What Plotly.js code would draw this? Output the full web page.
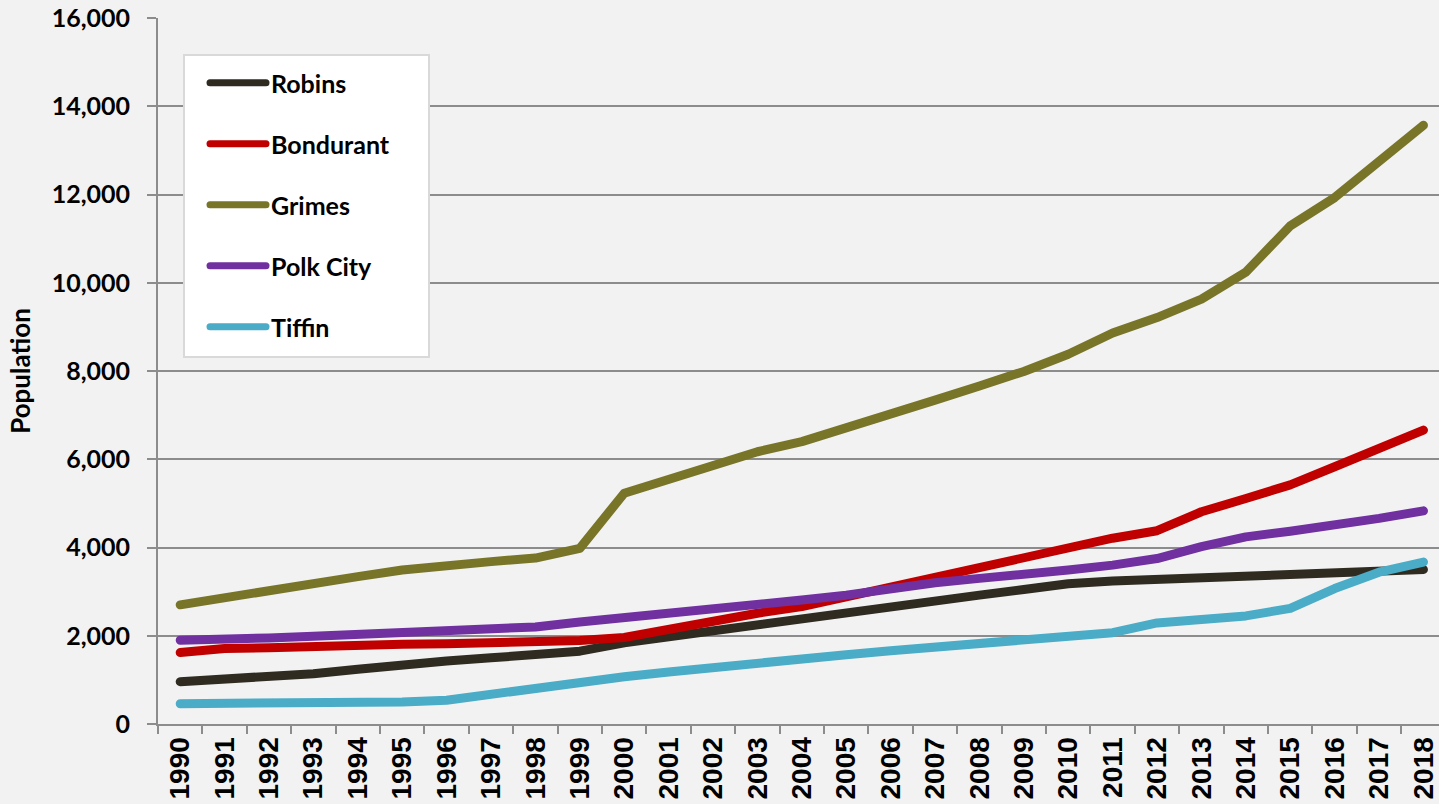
<!DOCTYPE html>
<html>
<head>
<meta charset="utf-8">
<script src="https://cdn.plot.ly/plotly-3.0.1.min.js"></script>
<style>
  html, body { margin: 0; padding: 0; background: #f2f2f2; }
  #chart { width: 1439px; height: 804px; }
</style>
</head>
<body>
<div id="chart"></div>
<script>
const years = ["1990","1991","1992","1993","1994","1995","1996","1997","1998","1999","2000","2001","2002","2003","2004","2005","2006","2007","2008","2009","2010","2011","2012","2013","2014","2015","2016","2017","2018"];

const robins    = [960,1010,1070,1140,1240,1350,1430,1500,1570,1650,1840,1980,2130,2270,2380,2510,2640,2780,2920,3050,3180,3240,3275,3300,3330,3370,3450,3480,3500];
const bondurant = [1620,1710,1730,1770,1800,1810,1820,1840,1860,1890,1960,2160,2360,2510,2660,2880,3110,3340,3560,3760,3970,4210,4380,4810,5110,5420,5830,6240,6660];
const grimes    = [2700,2870,3020,3170,3340,3490,3600,3680,3760,3980,5230,5560,5870,6170,6400,6730,7040,7340,7660,7990,8380,8860,9210,9630,10240,11290,11930,12740,13570];
const polkCity  = [1900,1910,1950,1990,2030,2060,2070,2120,2200,2310,2400,2520,2620,2720,2810,2920,3070,3200,3300,3380,3490,3600,3750,4020,4240,4370,4490,4660,4830];
const tiffin    = [460,460,460,470,470,500,540,680,820,950,1070,1180,1290,1390,1490,1570,1660,1750,1850,1920,1980,2070,2290,2390,2450,2620,3070,3440,3670];

const seriesNames = ["Robins","Bondurant","Grimes","Polk City","Tiffin"];
const seriesData = [robins, bondurant, grimes, polkCity, tiffin];
const seriesColors = ["#2f2b21","#c00000","#787528","#7030a0","#4aacc6"];

const yTicks = [0,2000,4000,6000,8000,10000,12000,14000,16000];
const yTickText = ["0","2,000","4,000","6,000","8,000","10,000","12,000","14,000","16,000"];

const traces = seriesNames.map((n, i) => ({
  type: "scatter",
  mode: "lines",
  name: n,
  legendgroup: "g" + i,
  x: years,
  y: seriesData[i],
  line: { color: seriesColors[i], width: 9 },
  hoverinfo: "x+y+name"
}));

const layout = {
  width: 1439,
  height: 804,
  margin: { l: 158, r: 0, t: 18, b: 80, pad: 0 },
  paper_bgcolor: "#f2f2f2",
  plot_bgcolor: "#f2f2f2",
  showlegend: true,
  legend: {
    x: (205 - 158) / 1281,
    y: (724 - 60) / 706,
    xanchor: "left",
    yanchor: "top",
    bgcolor: "rgba(0,0,0,0)",
    borderwidth: 0,
    font: { family: "Lato, 'Open Sans', sans-serif", size: 25, color: "#000000", weight: "bold" },
    tracegroupgap: 25.5,
    itemwidth: 56,
    traceorder: "grouped"
  },
  xaxis: {
    type: "category",
    range: [-0.5, 28.35],
    tickson: "boundaries",
    ticks: "outside",
    ticklen: 8,
    tickwidth: 2,
    tickcolor: "#8c8c8c",
    showline: true,
    linecolor: "#8c8c8c",
    linewidth: 2,
    showgrid: false,
    zeroline: false,
    tickangle: -90,
    tickfont: { family: "'Liberation Sans Narrow', 'Arial Narrow', 'Liberation Sans', sans-serif", size: 28, color: "#000000", weight: "bold" },
    fixedrange: true
  },
  yaxis: {
    range: [0, 16000],
    tickvals: yTicks,
    ticktext: yTickText,
    ticks: "outside",
    ticklen: 9,
    tickwidth: 2,
    tickcolor: "#8c8c8c",
    ticklabelstandoff: 12,
    showline: true,
    linecolor: "#8c8c8c",
    linewidth: 2,
    showgrid: true,
    gridcolor: "#8c8c8c",
    gridwidth: 2,
    zeroline: false,
    tickfont: { family: "Lato, 'Open Sans', sans-serif", size: 25, color: "#000000", weight: "bold" },
    title: { text: "Population", standoff: 14, font: { family: "Lato, 'Open Sans', sans-serif", size: 26, color: "#000000", weight: "bold" } },
    fixedrange: true
  },
  shapes: [{
    type: "rect",
    xref: "paper", yref: "paper",
    x0: (184 - 158) / 1281, x1: (429 - 158) / 1281,
    y0: (724 - 357) / 706, y1: (724 - 55) / 706,
    fillcolor: "#ffffff",
    line: { color: "#d9d9d9", width: 2 },
    layer: "above"
  }]
};

Plotly.newPlot("chart", traces, layout, { displayModeBar: false, staticPlot: true }).then(gd => {
  gd.querySelectorAll(".scatterlayer path.js-line").forEach(p => {
    p.style.strokeLinecap = "round";
    p.style.strokeLinejoin = "round";
  });
  gd.querySelectorAll(".legend path").forEach(p => {
    p.style.strokeLinecap = "round";
    p.style.strokeWidth = "7px";
  });
});
</script>
</body>
</html>
